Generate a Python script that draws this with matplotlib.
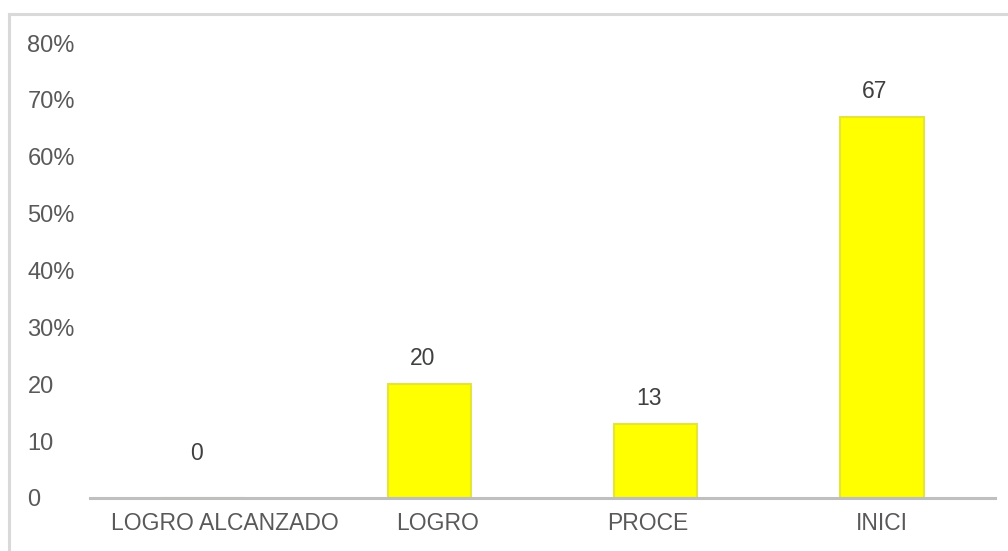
import matplotlib
matplotlib.use("Agg")
import matplotlib.pyplot as plt
import matplotlib.transforms as mtransforms
from matplotlib.lines import Line2D

categorias = ["LOGRO ALCANZADO", "LOGRO", "PROCE", "INICI"]
valores = [0, 20, 13, 67]
yticks = [0, 10, 20, 30, 40, 50, 60, 70, 80]
yticklabels = ["0", "10", "20", "30%", "40%", "50%", "60%", "70%", "80%"]

plt.rcParams["font.family"] = ["Liberation Sans", "DejaVu Sans"]

fig = plt.figure(figsize=(10.08, 5.51), dpi=100)
ax = fig.add_axes([90 / 1008, 1 - 498 / 551, 905 / 1008, 455 / 551])

x = range(len(categorias))
bars = ax.bar(x, valores, width=0.37, color="#ffff00",
              edgecolor="#e4e43a", linewidth=1.5)

for xi, v in zip(x, valores):
    off = 24 if v == 0 else 10
    ax.annotate(str(v), (xi, v), xytext=(-5, off), textcoords="offset points",
                ha="center", va="bottom", fontsize=16.5, color="#404040")

ax.set_xlim(-0.5, len(categorias) - 0.5)
ax.set_ylim(0, 80)
ax.set_yticks(yticks)
ax.set_yticklabels(yticklabels)
ax.set_xticks(list(x))
ax.set_xticklabels(categorias)

ax.tick_params(axis="y", length=0, pad=45, labelsize=17, labelcolor="#595959")
for lab in ax.get_yticklabels():
    lab.set_horizontalalignment("left")
ax.tick_params(axis="x", length=0, pad=10, labelsize=16.5, labelcolor="#595959")

# las etiquetas del eje x no quedan centradas en el original
desplaz = [16, 6, -6, 0]
for lab, d in zip(ax.get_xticklabels(), desplaz):
    lab.set_transform(lab.get_transform() +
                      mtransforms.ScaledTranslation(d / 72, 0, fig.dpi_scale_trans))

for s in ["top", "right", "left"]:
    ax.spines[s].set_visible(False)
ax.spines["bottom"].set_color("#bfbfbf")
ax.spines["bottom"].set_linewidth(2.2)

# marco exterior
fig.add_artist(Line2D([9 / 1008, 9 / 1008], [0, 1 - 14 / 551],
                      transform=fig.transFigure, color="#d9d9d9", lw=2.2))
fig.add_artist(Line2D([9 / 1008, 1], [1 - 14 / 551, 1 - 14 / 551],
                      transform=fig.transFigure, color="#d9d9d9", lw=2.2))

fig.savefig("out.png", dpi=100)
